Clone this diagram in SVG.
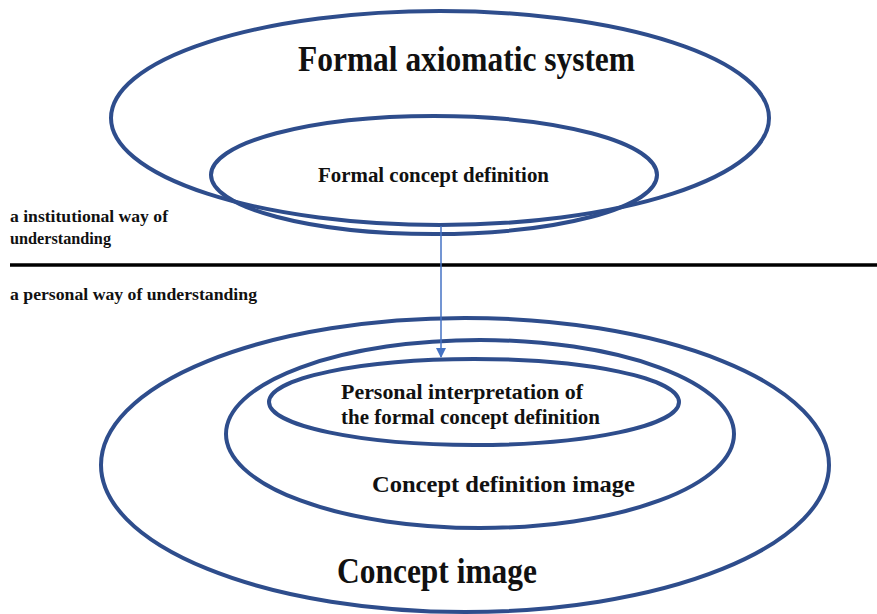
<svg xmlns="http://www.w3.org/2000/svg" width="877" height="614" viewBox="0 0 877 614">
<style>
.ell{fill:none;stroke:#2E4D8C;stroke-width:4}
.t{font-family:"Liberation Serif","Times New Roman",serif;font-weight:bold;fill:#111}
</style>
<defs>
<marker id="ah" viewBox="0 0 10 10" refX="9" refY="5" markerWidth="10" markerHeight="10" orient="auto" markerUnits="userSpaceOnUse">
<path d="M0,0 L10,5 L0,10 z" fill="#4472C4"/>
</marker>
</defs>
<rect width="877" height="614" fill="#fff"/>
<g id="formal-axiomatic-system">
<ellipse class="ell" cx="440" cy="118" rx="329" ry="107"/>
<text class="t" x="298" y="71" font-size="35" textLength="337" lengthAdjust="spacingAndGlyphs">Formal axiomatic system</text>
</g>
<g id="formal-concept-definition">
<ellipse class="ell" cx="434" cy="175" rx="223" ry="59"/>
<text class="t" x="318" y="182" font-size="20" textLength="231" lengthAdjust="spacingAndGlyphs">Formal concept definition</text>
</g>
<g id="divider">
<line x1="10" y1="265" x2="877" y2="265" stroke="#000" stroke-width="3.5"/>
<text class="t" x="10" y="222" font-size="16" textLength="158" lengthAdjust="spacingAndGlyphs">a institutional way of</text>
<text class="t" x="10" y="244" font-size="16" textLength="101" lengthAdjust="spacingAndGlyphs">understanding</text>
<text class="t" x="10" y="300" font-size="16" textLength="247" lengthAdjust="spacingAndGlyphs">a personal way of understanding</text>
</g>
<g id="concept-image">
<ellipse class="ell" cx="465" cy="465" rx="364" ry="147"/>
<text class="t" x="337" y="583" font-size="35" textLength="200" lengthAdjust="spacingAndGlyphs">Concept image</text>
</g>
<g id="concept-definition-image">
<ellipse class="ell" cx="480" cy="434" rx="254" ry="94"/>
<text class="t" x="372" y="492" font-size="24" textLength="263" lengthAdjust="spacingAndGlyphs">Concept definition image</text>
</g>
<g id="personal-interpretation">
<ellipse class="ell" cx="474" cy="402" rx="205" ry="43"/>
<text class="t" x="341" y="399" font-size="20" textLength="242" lengthAdjust="spacingAndGlyphs">Personal interpretation of</text>
<text class="t" x="341" y="424" font-size="20" textLength="259" lengthAdjust="spacingAndGlyphs">the formal concept definition</text>
</g>
<g id="connectors">
<line x1="441" y1="226" x2="441" y2="357" stroke="#4472C4" stroke-width="1.5" marker-end="url(#ah)"/>
</g>
</svg>
